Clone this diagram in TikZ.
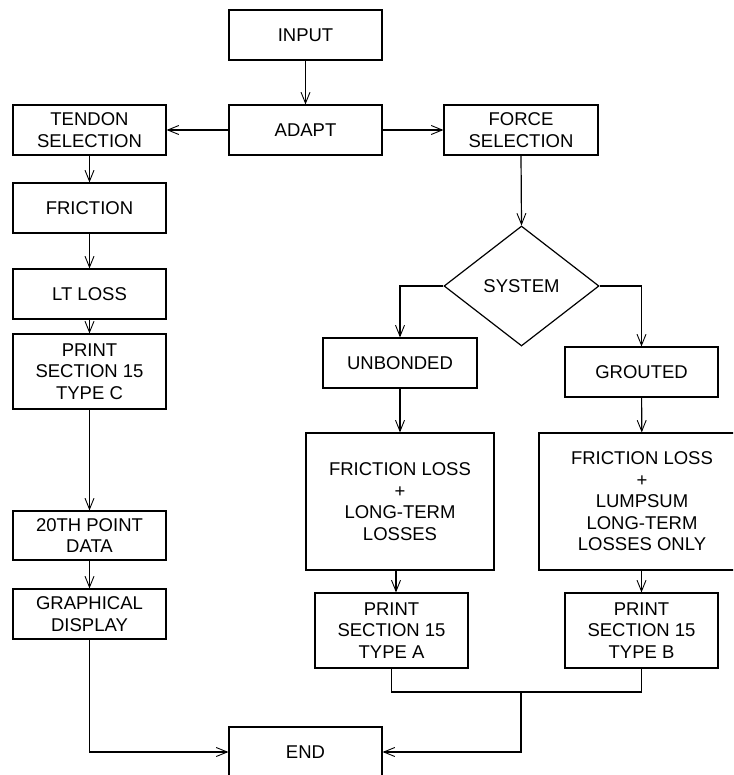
\documentclass[tikz,border=0pt]{standalone}
\usepackage{fontspec}
\setmainfont{Liberation Sans}
\usetikzlibrary{positioning,arrows.meta,shapes.geometric}

\begin{document}
\begin{tikzpicture}[x=1pt, y=-1pt, line width=1.2pt,
  >={Straight Barb[length=11pt,width=9pt,line width=0.9pt]},
  block/.style={draw, rectangle, align=center, inner sep=2pt,
    minimum width=153pt, minimum height=50pt,
    font=\fontsize{18.5}{21.5}\selectfont},
  decision/.style={draw, diamond, aspect=1.3, inner sep=0pt,
    minimum width=155pt, minimum height=120pt,
    font=\fontsize{18.5}{21.5}\selectfont},
  flow_line/.style={draw=black, line width=1.2pt}]
  \useasboundingbox (0,0) rectangle (733,775);
  \clip (0,0) rectangle (733,775);

  % main spine
  \node[block] (input) at (305.5, 35) {INPUT};
  \node[block] (adapt) at (305.5, 130) {ADAPT};
  \node[block] (end) at (305.5, 752) {END};

  % tendon branch
  \node[block] (tendon) at (89.5, 130) {TENDON\\SELECTION};
  \node[block] (friction) at (89.5, 208) {FRICTION};
  \node[block] (ltloss) at (89.5, 294) {LT LOSS};
  \node[block, minimum height=75pt] (printC) at (89.5, 371.5) {PRINT\\SECTION 15\\TYPE C};
  \node[block, minimum height=49pt] (point) at (89.5, 535.5) {20TH POINT\\DATA};
  \node[block] (graph) at (89.5, 614) {GRAPHICAL\\DISPLAY};

  % force branch
  \node[block, minimum width=154pt] (force) at (521, 130) {FORCE\\SELECTION};
  \node[decision] (system) at (521.5, 286) {SYSTEM};
  \node[block, minimum width=154pt] (unbonded) at (400, 363) {UNBONDED};
  \node[block] (grouted) at (641.5, 372) {GROUTED};
  \node[block, minimum width=188pt, minimum height=137pt] (lossA) at (400, 501.5)
    {FRICTION LOSS\\+\\LONG-TERM\\LOSSES};
  \node[block, minimum width=206pt, minimum height=137pt] (lossB) at (642, 501.5)
    {FRICTION LOSS\\+\\LUMPSUM\\LONG-TERM\\LOSSES ONLY};
  \node[block, minimum height=75pt] (printA) at (391.5, 630.5) {PRINT\\SECTION 15\\TYPE A};
  \node[block, minimum height=75pt] (printB) at (641.5, 630.5) {PRINT\\SECTION 15\\TYPE B};

  \coordinate (join) at (521, 692);

  \draw[flow_line,->] (input) -- (adapt);
  \draw[flow_line,->] (adapt) -- (tendon);
  \draw[flow_line,->] (adapt) -- (force);

  \draw[flow_line,->] (tendon) -- (friction);
  \draw[flow_line,->] (friction) -- (ltloss);
  \draw[flow_line,->] (ltloss) -- (printC);
  \draw[flow_line,->] (printC) -- (point);
  \draw[flow_line,->] (point) -- (graph);
  \draw[flow_line,->] (graph.south) |- (end.west);

  \draw[flow_line,->] (force.south) -- (system.north);
  \draw[flow_line,->] (system.west) -| (unbonded.north);
  \draw[flow_line,->] (system.east) -| (grouted.north);
  \draw[flow_line,->] (unbonded) -- (lossA);
  \draw[flow_line,->] (grouted) -- (lossB);
  \draw[flow_line,->] (lossA.south -| 396,0) -- (printA.north -| 396,0);
  \draw[flow_line,->] (lossB.south -| printB.north) -- (printB.north);

  \draw[flow_line] (printA.south) |- (join) -| (printB.south);
  \draw[flow_line,->] (join) |- (end.east);
\end{tikzpicture}
\end{document}
